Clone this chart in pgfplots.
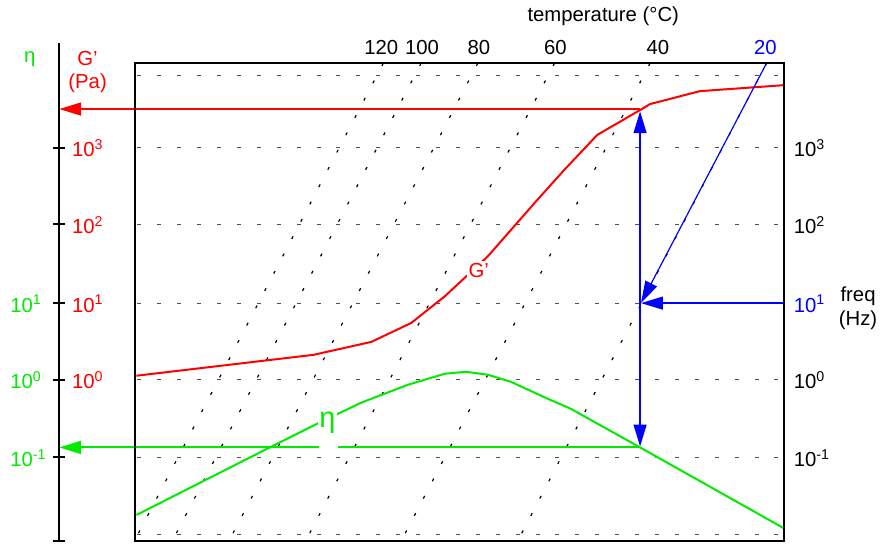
\documentclass[border=0pt]{standalone}
\usepackage{pgfplots}
\pgfplotsset{compat=1.18}
\usepackage{fontspec}
\setmainfont{Liberation Sans}
\usetikzlibrary{arrows.meta}
\definecolor{gred}{RGB}{255,0,0}
\definecolor{ggreen}{RGB}{0,235,0}
\definecolor{gblue}{RGB}{0,0,255}
\definecolor{gridc}{RGB}{80,80,80}
\newcommand{\dec}[2]{#1\textsuperscript{#2}}
\begin{document}
\fontsize{10.2}{12}\selectfont
\begin{tikzpicture}
\begin{axis}[
  scale only axis, width=442pt, height=273pt,
  xmin=0, xmax=884, ymin=-2.121, ymax=4.900,
  hide axis, clip=false,
  every node/.style={font=\fontsize{10.2}{12}\selectfont},
]
\path (axis cs:0,-2.121) rectangle (axis cs:884,4.900);
% horizontal dashed gridlines
\pgfplotsinvokeforeach{3.936,2.997,2.008,0.992,0.003,-1.0,-2.0}{
  \addplot[gridc, line width=0.6pt, dash pattern=on 2pt off 8pt] coordinates {(138,#1) (787,#1)};
}
% dotted temperature lines
\addplot[black, line width=0.6pt, dash pattern=on 1.5pt off 8.3pt] coordinates {(385,4.090) (135,-2.082)};
\addplot[black, line width=0.6pt, dash pattern=on 1.5pt off 8.3pt] coordinates {(423,4.090) (173,-2.082)};
\addplot[black, line width=0.6pt, dash pattern=on 1.5pt off 8.3pt] coordinates {(480,4.090) (230,-2.082)};
\addplot[black, line width=0.6pt, dash pattern=on 1.5pt off 8.3pt] coordinates {(557,4.090) (307,-2.082)};
\addplot[black, line width=0.6pt, dash pattern=on 1.5pt off 8.3pt] coordinates {(653,4.090) (403,-2.082)};
\addplot[black, line width=0.6pt, dash pattern=on 1.5pt off 8.3pt] coordinates {(770,4.090) (520,-2.082)};
% G' curve
\addplot[gred, line width=1pt] coordinates {
 (137,0.054) (315,0.324) (373,0.491) (413,0.735) (447,1.082) (490,1.596)
 (540,2.329) (567,2.715) (600,3.165) (643,3.486) (653,3.563) (703,3.730) (787,3.807)};
% eta curve
\addplot[ggreen, line width=1pt] coordinates {
 (137,-1.745) (273,-0.859) (317,-0.576) (340,-0.435) (363,-0.293) (410,-0.062)
 (447,0.080) (468,0.105) (490,0.067) (513,-0.023) (550,-0.242) (573,-0.370)
 (643,-0.872) (787,-1.913)};
% red arrow to left axis
\addplot[gred, line width=0.8pt, -{Triangle[length=11pt,width=6.5pt]}] coordinates {(643,3.499) (59.5,3.499)};
% green arrow to left axis (split around eta label)
\addplot[ggreen, line width=1pt] coordinates {(643,-0.872) (340,-0.872)};
\addplot[ggreen, line width=1pt, -{Triangle[length=11pt,width=6.5pt]}] coordinates {(320,-0.872) (59.5,-0.872)};
% blue arrows
\addplot[gblue, line width=0.75pt, {Triangle[length=11pt,width=6.5pt]}-{Triangle[length=11pt,width=6.5pt]}] coordinates {(643,3.47) (643,-0.86)};
\addplot[gblue, line width=0.75pt, -{Triangle[length=11pt,width=6.5pt]}] coordinates {(787,0.992) (644,0.992)};
\addplot[gblue, line width=0.6pt, -{Triangle[length=11pt,width=6.5pt]}] coordinates {(770,4.090) (644,0.995)};
% box
\draw[black, line width=1pt] (axis cs:136,-2.082) rectangle (axis cs:788,4.090);
% left axis
\addplot[black, line width=1pt] coordinates {(59,4.347) (59,-2.082)};
\pgfplotsinvokeforeach{2.997,2.008,0.992,0.003,-1.0,-2.082}{
  \addplot[black, line width=1pt] coordinates {(53,#1) (65,#1)};
}
% in-plot labels
\node[text=gred, fill=white, inner sep=1pt, anchor=base] at (axis cs:481,1.326) {G’};
\node[text=ggreen, fill=white, inner sep=0.5pt, anchor=base, font=\fontsize{14.5}{16}\selectfont] at (axis cs:329,-0.62) {η};
% left labels
\node[text=ggreen, anchor=base] at (axis cs:30,4.100) {η};
\node[text=gred, anchor=base] at (axis cs:88,4.064) {G’};
\node[text=gred, anchor=base] at (axis cs:88,3.769) {(Pa)};
\node[text=gred, anchor=base west, inner sep=0pt] at (axis cs:72,2.881) {\dec{10}{3}};
\node[text=gred, anchor=base west, inner sep=0pt] at (axis cs:72,1.892) {\dec{10}{2}};
\node[text=gred, anchor=base west, inner sep=0pt] at (axis cs:72,0.876) {\dec{10}{1}};
\node[text=gred, anchor=base west, inner sep=0pt] at (axis cs:72,-0.113) {\dec{10}{0}};
\node[text=ggreen, anchor=base west, inner sep=0pt] at (axis cs:10,0.876) {\dec{10}{1}};
\node[text=ggreen, anchor=base west, inner sep=0pt] at (axis cs:10,-0.113) {\dec{10}{0}};
\node[text=ggreen, anchor=base west, inner sep=0pt] at (axis cs:10,-1.116) {\dec{10}{-1}};
% right labels
\node[anchor=base west, inner sep=0pt] at (axis cs:797,2.881) {\dec{10}{3}};
\node[anchor=base west, inner sep=0pt] at (axis cs:797,1.892) {\dec{10}{2}};
\node[text=gblue, anchor=base west, inner sep=0pt] at (axis cs:797,0.876) {\dec{10}{1}};
\node[anchor=base west, inner sep=0pt] at (axis cs:797,-0.113) {\dec{10}{0}};
\node[anchor=base west, inner sep=0pt] at (axis cs:797,-1.116) {\dec{10}{-1}};
\node[anchor=base] at (axis cs:862,1.017) {freq};
\node[anchor=base] at (axis cs:862,0.697) {(Hz)};
% top labels
\node[anchor=base] at (axis cs:606,4.630) {temperature (°C)};
\node[anchor=base] at (axis cs:383,4.205) {120};
\node[anchor=base] at (axis cs:424,4.205) {100};
\node[anchor=base] at (axis cs:481,4.205) {80};
\node[anchor=base] at (axis cs:558,4.205) {60};
\node[anchor=base] at (axis cs:661,4.205) {40};
\node[text=gblue, anchor=base] at (axis cs:769,4.205) {20};
\end{axis}
\end{tikzpicture}
\end{document}
